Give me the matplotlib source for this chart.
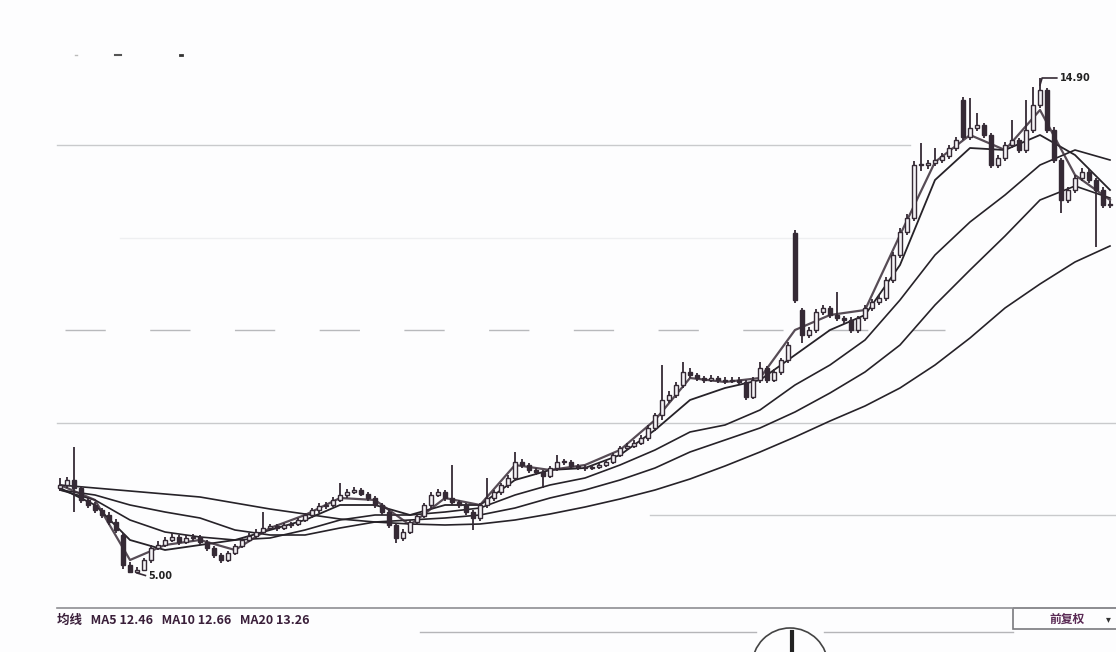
import matplotlib
matplotlib.use('Agg')
import matplotlib.pyplot as plt
from matplotlib.patches import Rectangle, Circle

# ---------------- data (price units) ----------------
opens = [6.70, 6.76, 6.86, 6.70, 6.46, 6.36, 6.26, 6.16, 6.02, 5.76,
         5.16, 5.02, 5.06, 5.26, 5.50, 5.56, 5.66, 5.72, 5.62, 5.70,
         5.72, 5.62, 5.50, 5.36, 5.26, 5.40, 5.54, 5.66, 5.74, 5.82,
         5.90, 5.94, 5.90, 5.96, 5.98, 6.06, 6.16, 6.26, 6.34, 6.36,
         6.46, 6.56, 6.62, 6.66, 6.58, 6.50, 6.36, 6.22, 5.96, 5.70,
         5.82, 6.02, 6.14, 6.36, 6.56, 6.62, 6.50, 6.42, 6.36, 6.22,
         6.10, 6.36, 6.50, 6.62, 6.76, 6.90, 7.22, 7.16, 7.06, 7.02,
         6.94, 7.10, 7.22, 7.22, 7.14, 7.12, 7.10, 7.12, 7.16, 7.22,
         7.36, 7.50, 7.54, 7.60, 7.70, 7.90, 8.16, 8.46, 8.56, 8.76,
         9.02, 8.96, 8.90, 8.86, 8.90, 8.86, 8.84, 8.86, 8.82, 8.52,
         8.86, 9.10, 8.86, 9.02, 9.26, 11.80, 10.26, 9.76, 9.86, 10.22,
         10.30, 10.16, 10.10, 10.06, 9.86, 10.10, 10.30, 10.42, 10.50, 10.86,
         11.36, 11.82, 12.10, 13.16, 13.16, 13.20, 13.26, 13.34, 13.50, 14.46,
         13.72, 13.90, 13.96, 13.76, 13.16, 13.30, 13.56, 13.66, 13.46, 13.86,
         14.36, 14.66, 13.86, 13.26, 12.46, 12.66, 12.90, 13.02, 12.86, 12.66,
         12.36]
closes = [6.76, 6.86, 6.70, 6.46, 6.36, 6.26, 6.16, 6.02, 5.86, 5.16,
          5.02, 5.06, 5.26, 5.50, 5.56, 5.66, 5.72, 5.62, 5.70, 5.72,
          5.62, 5.50, 5.36, 5.26, 5.40, 5.54, 5.66, 5.74, 5.82, 5.90,
          5.94, 5.90, 5.96, 5.98, 6.06, 6.16, 6.26, 6.34, 6.36, 6.46,
          6.56, 6.62, 6.66, 6.58, 6.50, 6.36, 6.22, 5.96, 5.70, 5.82,
          6.02, 6.14, 6.36, 6.56, 6.62, 6.50, 6.42, 6.36, 6.22, 6.10,
          6.36, 6.50, 6.62, 6.76, 6.90, 7.22, 7.16, 7.06, 7.02, 6.94,
          7.10, 7.22, 7.22, 7.14, 7.12, 7.10, 7.12, 7.16, 7.22, 7.36,
          7.50, 7.54, 7.60, 7.70, 7.90, 8.16, 8.46, 8.56, 8.76, 9.02,
          8.96, 8.90, 8.86, 8.90, 8.86, 8.84, 8.86, 8.82, 8.52, 8.86,
          9.10, 8.86, 9.02, 9.26, 9.56, 10.46, 9.76, 9.86, 10.22, 10.30,
          10.16, 10.10, 10.06, 9.86, 10.10, 10.30, 10.42, 10.50, 10.86, 11.36,
          11.82, 12.10, 13.16, 13.16, 13.20, 13.26, 13.34, 13.50, 13.66, 13.72,
          13.90, 13.96, 13.76, 13.16, 13.30, 13.56, 13.66, 13.46, 13.86, 14.36,
          14.66, 13.86, 13.26, 12.46, 12.66, 12.90, 13.02, 12.86, 12.66, 12.36,
          12.36]
highs = [6.90, 6.92, 7.52, 6.74, 6.50, 6.42, 6.30, 6.22, 6.08, 5.80,
         5.22, 5.12, 5.30, 5.56, 5.64, 5.72, 5.80, 5.76, 5.76, 5.78,
         5.76, 5.66, 5.54, 5.40, 5.44, 5.58, 5.70, 5.80, 5.88, 6.22,
         5.98, 5.98, 6.00, 6.02, 6.10, 6.20, 6.30, 6.40, 6.42, 6.52,
         6.80, 6.68, 6.72, 6.70, 6.62, 6.54, 6.40, 6.26, 6.00, 5.88,
         6.06, 6.18, 6.40, 6.62, 6.68, 6.66, 7.16, 6.46, 6.40, 6.26,
         6.40, 6.90, 6.66, 6.80, 6.96, 7.42, 7.28, 7.20, 7.10, 7.06,
         7.14, 7.36, 7.28, 7.26, 7.18, 7.16, 7.16, 7.20, 7.26, 7.40,
         7.54, 7.60, 7.66, 7.76, 7.96, 8.20, 9.16, 8.64, 8.82, 9.22,
         9.10, 9.00, 8.94, 8.96, 8.94, 8.92, 8.92, 8.92, 8.86, 8.92,
         9.22, 9.14, 9.08, 9.30, 9.62, 11.86, 10.30, 9.92, 10.28, 10.36,
         10.34, 10.62, 10.14, 10.12, 10.14, 10.36, 10.48, 10.56, 10.92, 11.42,
         11.90, 12.18, 13.24, 13.60, 13.26, 13.50, 13.40, 13.56, 13.72, 14.52,
         14.50, 14.20, 14.00, 13.80, 13.36, 13.62, 14.06, 13.70, 14.46, 14.72,
         14.90, 14.70, 13.92, 13.30, 12.72, 12.96, 13.10, 13.08, 12.90, 12.72,
         12.44]
lows = [6.64, 6.70, 6.22, 6.40, 6.30, 6.20, 6.10, 5.96, 5.80, 5.08,
        5.02, 5.00, 5.04, 5.20, 5.46, 5.52, 5.62, 5.56, 5.58, 5.64,
        5.56, 5.44, 5.30, 5.20, 5.22, 5.36, 5.50, 5.62, 5.70, 5.78,
        5.86, 5.84, 5.86, 5.90, 5.94, 6.02, 6.10, 6.20, 6.28, 6.32,
        6.42, 6.50, 6.58, 6.54, 6.44, 6.30, 6.16, 5.90, 5.60, 5.64,
        5.78, 5.96, 6.10, 6.30, 6.52, 6.44, 6.36, 6.30, 6.16, 5.86,
        6.04, 6.30, 6.44, 6.56, 6.70, 6.84, 7.10, 7.00, 6.96, 6.70,
        6.90, 7.04, 7.16, 7.10, 7.06, 7.04, 7.06, 7.08, 7.12, 7.18,
        7.32, 7.46, 7.50, 7.56, 7.64, 7.84, 8.06, 8.40, 8.50, 8.70,
        8.90, 8.84, 8.80, 8.82, 8.80, 8.78, 8.80, 8.78, 8.46, 8.48,
        8.80, 8.80, 8.82, 8.96, 9.20, 10.40, 9.60, 9.70, 9.80, 10.16,
        10.10, 10.04, 9.98, 9.80, 9.80, 10.04, 10.24, 10.36, 10.44, 10.80,
        11.30, 11.76, 12.04, 13.04, 13.08, 13.14, 13.20, 13.28, 13.44, 13.66,
        13.66, 13.84, 13.70, 13.10, 13.10, 13.24, 13.50, 13.40, 13.40, 13.80,
        14.30, 13.80, 13.20, 12.20, 12.40, 12.60, 12.84, 12.80, 11.52, 12.30,
        12.30]

# moving-average lines, read every 5 bars
ma_idx = list(range(0, 151, 5))
ma5 = [6.76, 6.46, 5.26, 5.56, 5.66, 5.46, 5.90, 6.16, 6.50, 6.46, 5.96,
       6.50, 6.36, 7.16, 7.06, 7.16, 7.46, 8.06, 8.90, 8.82, 8.90, 9.86,
       10.16, 10.26, 11.76, 13.22, 13.76, 13.46, 14.26, 12.96, 12.46]
ma10 = [6.70, 6.36, 5.66, 5.46, 5.56, 5.66, 5.86, 6.06, 6.36, 6.36, 6.16,
        6.36, 6.36, 6.86, 7.06, 7.10, 7.36, 7.86, 8.46, 8.70, 8.86, 9.36,
        9.86, 10.16, 11.16, 12.86, 13.50, 13.46, 13.76, 13.36, 12.66]
ma20 = [6.66, 6.46, 6.06, 5.82, 5.72, 5.66, 5.70, 5.86, 6.06, 6.16, 6.16,
        6.22, 6.30, 6.56, 6.76, 6.90, 7.16, 7.46, 7.82, 7.96, 8.26, 8.76,
        9.16, 9.66, 10.46, 11.36, 12.02, 12.56, 13.16, 13.46, 13.26]
ma30 = [6.66, 6.56, 6.36, 6.22, 6.10, 5.86, 5.76, 5.76, 5.90, 6.02, 6.06,
        6.10, 6.16, 6.30, 6.50, 6.66, 6.86, 7.10, 7.42, 7.66, 7.90, 8.22,
        8.60, 9.02, 9.56, 10.36, 11.06, 11.74, 12.46, 12.74, 12.50]
ma60 = [6.76, 6.70, 6.64, 6.58, 6.52, 6.40, 6.28, 6.18, 6.08, 6.02, 5.98,
        5.96, 5.98, 6.06, 6.18, 6.32, 6.48, 6.66, 6.88, 7.14, 7.42, 7.72,
        8.04, 8.34, 8.70, 9.16, 9.70, 10.30, 10.78, 11.22, 11.54]

grid_levels = [13.56, 11.70, 9.86, 8.00, 6.16]
info_text = "均线   MA5 12.46   MA10 12.66   MA20 13.26"
adjust_label = "前复权"

# ---------------- figure ----------------
W, H = 1116, 652
fig = plt.figure(figsize=(W / 100, H / 100), dpi=100)
fig.patch.set_facecolor('#fdfdfe')
ax = fig.add_axes([0, 0, 1, 1])
ax.set_facecolor('none')
ax.set_xlim(-60 / 7, (W - 60) / 7)
ax.set_ylim(3.42, 16.46)
ax.axis('off')

# horizontal reference lines (extent in axes fraction)
grid_style = [
    dict(xmin=57 / W, xmax=910 / W, color='#c9cacc', lw=1.0, ls='-'),
    dict(xmin=120 / W, xmax=900 / W, color='#eeeff1', lw=1.0, ls='-'),
    dict(xmin=65 / W, xmax=945 / W, color='#b8b9bc', lw=1.0, ls=(0, (29, 32))),
    dict(xmin=57 / W, xmax=1.0, color='#c9cacc', lw=1.0, ls='-'),
    dict(xmin=650 / W, xmax=1.0, color='#c9cacc', lw=1.0, ls='-'),
]
for lvl, st in zip(grid_levels, grid_style):
    ax.axhline(lvl, zorder=1, **st)

# moving averages
line_col = '#262228'
ax.plot(ma_idx, ma60, color=line_col, lw=1.2, zorder=2)
ax.plot(ma_idx, ma30, color=line_col, lw=1.2, zorder=2)
ax.plot(ma_idx, ma20, color=line_col, lw=1.2, zorder=2)
ax.plot(ma_idx, ma10, color=line_col, lw=1.3, zorder=2)
ax.plot(ma_idx, ma5, color='#3a2d38', lw=1.6, alpha=0.85, zorder=3)

# candles
cc = '#352a35'
bw = 0.6
for i, (o, c, h, l) in enumerate(zip(opens, closes, highs, lows)):
    ax.vlines(i, l, h, color=cc, lw=1.3, zorder=4)
    bottom = min(o, c)
    height = max(abs(c - o), 0.02)
    face = '#f4f2f5' if c >= o else cc
    ax.add_patch(Rectangle((i - bw / 2, bottom), bw, height,
                           facecolor=face, edgecolor=cc, lw=1.0, zorder=5))

# high / low markers
ih = max(range(len(highs)), key=lambda k: highs[k])
il = min(range(len(lows)), key=lambda k: lows[k])
ax.plot([ih, ih + 0.3, ih + 2.4], [highs[ih] - 0.14, highs[ih], highs[ih]],
        color=cc, lw=1.2, zorder=6)
ax.text(ih + 2.9, highs[ih], f"{highs[ih]:.2f}", fontsize=7, fontweight='bold',
        color='#222', va='center', ha='left', zorder=6)
ax.plot([il, il + 1.2], [lows[il], lows[il] - 0.05], color=cc, lw=1.2, zorder=6)
ax.text(il + 1.6, lows[il] - 0.06, f"{lows[il]:.2f}", fontsize=7, fontweight='bold',
        color='#222', va='center', ha='left', zorder=6)

# ---------------- bottom strip (pixel overlay) ----------------
ov = fig.add_axes([0, 0, 1, 1])
ov.set_xlim(0, W)
ov.set_ylim(H, 0)
ov.axis('off')
ov.set_facecolor('none')

ov.plot([57, W], [608, 608], color='#8e8e92', lw=1.2)
ov.plot([420, 756], [632, 632], color='#b5b5b8', lw=1.0)
ov.plot([824, 1013], [632, 632], color='#b5b5b8', lw=1.0)
ov.add_patch(Rectangle((1013, 608), 110, 21, facecolor='none',
                       edgecolor='#7a7a7e', lw=1.2))
ov.text(1067, 619, adjust_label, fontsize=8.5, color='#5a2a55', fontweight='bold',
        ha='center', va='center', family=['Noto Sans CJK SC', 'DejaVu Sans'])
ov.text(1108, 619, "▾", fontsize=7, color='#333', ha='center', va='center')
ov.text(57, 620, info_text, fontsize=9, color='#3a1f3a', fontweight='bold',
        ha='left', va='center', family=['Noto Sans CJK SC', 'DejaVu Sans'])
ov.add_patch(Circle((790, 666), 38, facecolor='none', edgecolor='#444', lw=1.2))
ov.plot([792, 792], [632, 652], color='#222', lw=3)

# tiny marks at top-left
ov.plot([75, 77], [55, 55], color='#bbb', lw=1)
ov.plot([115, 121], [55, 55], color='#555', lw=1.5)
ov.plot([180, 182], [55, 55], color='#333', lw=2)

fig.savefig('out.png', dpi=100, facecolor=fig.get_facecolor())
